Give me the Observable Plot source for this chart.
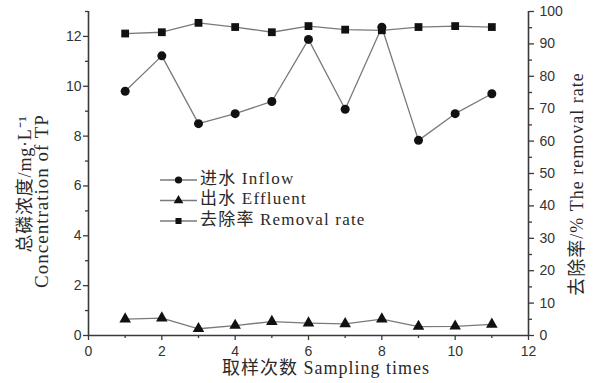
<!DOCTYPE html>
<html><head><meta charset="utf-8">
<script src="https://cdn.jsdelivr.net/npm/d3@7"></script>
<script src="https://cdn.jsdelivr.net/npm/@observablehq/plot@0.6"></script>
<style>body{margin:0;background:#fff}</style>
</head><body><div id="chart"></div>
<script>
const samples = [1, 2, 3, 4, 5, 6, 7, 8, 9, 10, 11];
const inflow = [9.8, 11.22, 8.5, 8.9, 9.39, 11.88, 9.08, 12.37, 7.83, 8.9, 9.7];
const effluent = [0.66, 0.7, 0.27, 0.4, 0.56, 0.5, 0.47, 0.66, 0.36, 0.37, 0.45];
const removalRate = [93.2, 93.6, 96.5, 95.2, 93.6, 95.5, 94.4, 94.2, 95.2, 95.5, 95.2];
const xTicks = [0, 2, 4, 6, 8, 10, 12];
const xMinor = [1, 3, 5, 7, 9, 11];
const leftTicks = [0, 2, 4, 6, 8, 10, 12];
const leftMinor = [1, 3, 5, 7, 9, 11, 13];
const rightTicks = [0, 10, 20, 30, 40, 50, 60, 70, 80, 90, 100];
const rightMinor = [5, 15, 25, 35, 45, 55, 65, 75, 85, 95];
const leftMax = 13;
const toLeft = v => v * leftMax / 100;

const rows = samples.map((s, i) => ({s, inflow: inflow[i], effluent: effluent[i], rate: toLeft(removalRate[i])}));

const axisColor = "#3a3a3a";
const lineColor = "#7a7a7a";
const dotColor = "#111";
const tickFont = {fontSize: 14, fill: "#333"};

const plot = Plot.plot({
  width: 594, height: 383,
  marginLeft: 88, marginRight: 66, marginTop: 11, marginBottom: 48,
  style: {fontFamily: "'Liberation Sans', Arial, sans-serif", fontSize: "14px", color: "#333", background: "#fff"},
  x: {domain: [0, 12]},
  y: {domain: [0, leftMax]},
  marks: [
    Plot.axisX({ticks: xTicks, tickSize: 5, tickPadding: 6, label: null, stroke: axisColor, strokeWidth: 1.3, ...tickFont}),
    Plot.axisX({ticks: xMinor, tickSize: 3, tickFormat: () => "", label: null, stroke: axisColor, strokeWidth: 1.3}),
    Plot.axisY({anchor: "left", ticks: leftTicks, tickSize: 5, tickPadding: 2, label: null, stroke: axisColor, strokeWidth: 1.3, ...tickFont}),
    Plot.axisY({anchor: "left", ticks: leftMinor, tickSize: 3, tickFormat: () => "", label: null, stroke: axisColor, strokeWidth: 1.3}),
    Plot.axisY({anchor: "right", ticks: rightTicks.map(toLeft), tickSize: 5, tickPadding: 6, tickFormat: d => String(Math.round(d * 100 / leftMax)), label: null, stroke: axisColor, strokeWidth: 1.3, ...tickFont}),
    Plot.axisY({anchor: "right", ticks: rightMinor.map(toLeft), tickSize: 3, tickFormat: () => "", label: null, stroke: axisColor, strokeWidth: 1.3}),
    Plot.ruleX([0, 12], {stroke: axisColor, strokeWidth: 1.6}),
    Plot.ruleY([0], {stroke: axisColor, strokeWidth: 1.6}),
    Plot.line(rows, {x: "s", y: "rate", stroke: lineColor, strokeWidth: 1.3}),
    Plot.line(rows, {x: "s", y: "inflow", stroke: lineColor, strokeWidth: 1.3}),
    Plot.line(rows, {x: "s", y: "effluent", stroke: lineColor, strokeWidth: 1.3}),
    Plot.dot(rows, {x: "s", y: "rate", symbol: "square", r: 4.4, fill: dotColor, stroke: "none"}),
    Plot.dot(rows, {x: "s", y: "inflow", symbol: "circle", r: 4.5, fill: dotColor, stroke: "none"}),
    Plot.dot(rows, {x: "s", y: "effluent", symbol: "triangle", r: 4.3, fill: dotColor, stroke: "none"})
  ]
});
document.getElementById("chart").appendChild(plot);

const svg = d3.select(plot);
const titleFont = "'Liberation Serif', 'Times New Roman', 'Noto Sans CJK SC', serif";
const titleFill = "#2a2a2a";

// Axis titles
svg.append("text").attr("transform", "translate(27,184) rotate(-90)")
  .attr("text-anchor", "middle").attr("dominant-baseline", "middle")
  .style("font-family", titleFont).style("font-size", "18px").style("letter-spacing", "0.8px").attr("fill", titleFill)
  .text("总磷浓度/mg·L⁻¹");
svg.append("text").attr("transform", "translate(44,201) rotate(-90)")
  .attr("text-anchor", "middle").attr("dominant-baseline", "middle")
  .style("font-family", titleFont).style("font-size", "19px").style("letter-spacing", "1px").attr("fill", titleFill)
  .text("Concentration of TP");
svg.append("text").attr("transform", "translate(579,184) rotate(-90)")
  .attr("text-anchor", "middle").attr("dominant-baseline", "middle")
  .style("font-family", titleFont).style("font-size", "18px").style("letter-spacing", "1px").attr("fill", titleFill)
  .text("去除率/% The removal rate");
svg.append("text").attr("x", 326).attr("y", 370)
  .attr("text-anchor", "middle").attr("dominant-baseline", "middle")
  .style("font-family", titleFont).style("font-size", "18px").style("letter-spacing", "1px").attr("fill", titleFill)
  .text("取样次数 Sampling times");

// Legend
const legendItems = [
  {label: "进水 Inflow", symbol: d3.symbolCircle, r: 3.6},
  {label: "出水 Effluent", symbol: d3.symbolTriangle, r: 3.6},
  {label: "去除率 Removal rate", symbol: d3.symbolSquare, r: 3.4}
];
const lg = svg.append("g");
legendItems.forEach((d, i) => {
  const y = 180 + i * 20.5;
  lg.append("line").attr("x1", 160).attr("x2", 197).attr("y1", y).attr("y2", y).attr("stroke", lineColor).attr("stroke-width", 1.3);
  lg.append("path").attr("d", d3.symbol(d.symbol, Math.PI * d.r * d.r)()).attr("transform", `translate(178.5,${y})`).attr("fill", dotColor);
  lg.append("text").attr("x", 200).attr("y", y).attr("text-anchor", "start").attr("dominant-baseline", "middle")
    .style("font-family", titleFont).style("font-size", "17px").style("letter-spacing", "1.2px").attr("fill", titleFill)
    .text(d.label);
});
</script>
</body></html>
